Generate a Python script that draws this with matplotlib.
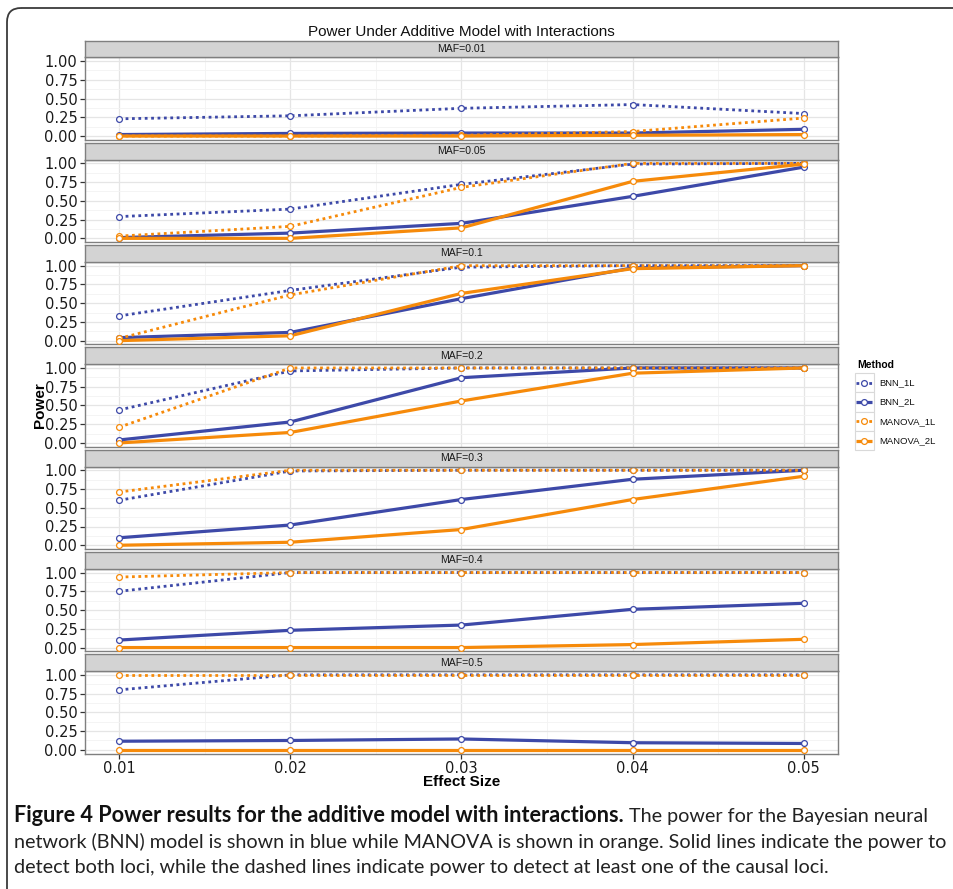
import matplotlib
matplotlib.use("Agg")
import matplotlib.pyplot as plt
from matplotlib.patches import FancyBboxPatch, Rectangle
from matplotlib.lines import Line2D

# ---------------- data ----------------
effect_size = [0.01, 0.02, 0.03, 0.04, 0.05]
maf_levels = ["0.01", "0.05", "0.1", "0.2", "0.3", "0.4", "0.5"]
methods = ["BNN_1L", "BNN_2L", "MANOVA_1L", "MANOVA_2L"]

# power per MAF level (rows) and effect size (columns)
bnn_1l = [
    [0.23, 0.27, 0.37, 0.42, 0.30],
    [0.29, 0.39, 0.72, 0.99, 1.00],
    [0.33, 0.67, 0.98, 1.00, 1.00],
    [0.44, 0.96, 1.00, 1.00, 1.00],
    [0.60, 0.99, 1.00, 1.00, 1.00],
    [0.75, 1.00, 1.00, 1.00, 1.00],
    [0.80, 1.00, 1.00, 1.00, 1.00],
]
bnn_2l = [
    [0.02, 0.035, 0.04, 0.04, 0.09],
    [0.01, 0.07, 0.20, 0.56, 0.95],
    [0.04, 0.11, 0.56, 0.97, 1.00],
    [0.04, 0.28, 0.87, 1.00, 1.00],
    [0.10, 0.27, 0.61, 0.88, 1.00],
    [0.10, 0.23, 0.30, 0.51, 0.59],
    [0.115, 0.125, 0.145, 0.095, 0.085],
]
manova_1l = [
    [0.00, 0.00, 0.01, 0.06, 0.24],
    [0.03, 0.16, 0.68, 1.00, 1.00],
    [0.03, 0.61, 1.00, 1.00, 1.00],
    [0.21, 1.00, 1.00, 1.00, 1.00],
    [0.71, 1.00, 1.00, 1.00, 1.00],
    [0.94, 1.00, 1.00, 1.00, 1.00],
    [1.00, 1.00, 1.00, 1.00, 1.00],
]
manova_2l = [
    [0.00, 0.00, 0.00, 0.01, 0.02],
    [0.00, 0.00, 0.14, 0.76, 0.99],
    [0.00, 0.065, 0.63, 0.96, 1.00],
    [0.00, 0.14, 0.56, 0.93, 1.00],
    [0.00, 0.04, 0.21, 0.61, 0.92],
    [0.00, 0.00, 0.00, 0.04, 0.11],
    [0.00, 0.00, 0.00, 0.00, 0.00],
]

x_ticks = [0.01, 0.02, 0.03, 0.04, 0.05]
x_ticklabels = ["0.01", "0.02", "0.03", "0.04", "0.05"]
y_ticks = [0.0, 0.25, 0.5, 0.75, 1.0]
y_ticklabels = ["0.00", "0.25", "0.50", "0.75", "1.00"]

title = "Power Under Additive Model with Interactions"
caption_bold = "Figure 4 Power results for the additive model with interactions."
caption_lines = [
    " The power for the Bayesian neural",
    "network (BNN) model is shown in blue while MANOVA is shown in orange. Solid lines indicate the power to",
    "detect both loci, while the dashed lines indicate power to detect at least one of the causal loci.",
]

# ---------------- styling ----------------
BLUE = "#3D49A8"
ORANGE = "#F68A0A"
series = [
    (bnn_1l, BLUE, "dotted"),
    (bnn_2l, BLUE, "solid"),
    (manova_1l, ORANGE, "dotted"),
    (manova_2l, ORANGE, "solid"),
]
DOT = (0, (1.0, 1.3))

W, H = 954, 889
fig = plt.figure(figsize=(W / 100, H / 100), dpi=100)
fig.patch.set_facecolor("white")


def rect(l, t, r, b):
    return [l / W, 1 - b / H, (r - l) / W, (b - t) / H]


# outer rounded frame
frame_ax = fig.add_axes([0, 0, 1, 1], zorder=-5)
frame_ax.set_xlim(0, W)
frame_ax.set_ylim(H, 0)
frame_ax.axis("off")
frame_ax.add_patch(FancyBboxPatch((7, 8), W + 40, H + 40,
                                  boxstyle="round,pad=0,rounding_size=14",
                                  fc="none", ec="#3a3a3a", lw=1.3))

P_LEFT, P_RIGHT = 85, 838
P_TOP0 = 57.3
P_H = 82.5
STEP = 102.3
STRIP_H = 16.8
GRID_MAJ = "#E5E5E5"
GRID_MIN = "#F3F3F3"
BORDER = "#7F7F7F"

axes = []
for i, maf in enumerate(maf_levels):
    top = P_TOP0 + i * STEP
    ax = fig.add_axes(rect(P_LEFT, top, P_RIGHT, top + P_H))
    axes.append(ax)
    ax.set_xlim(0.01 - 0.002, 0.05 + 0.002)
    ax.set_ylim(-0.05, 1.05)
    ax.set_xticks(x_ticks)
    ax.set_xticks([0.015, 0.025, 0.035, 0.045], minor=True)
    ax.set_yticks(y_ticks)
    ax.set_yticks([0.125, 0.375, 0.625, 0.875], minor=True)
    ax.set_yticklabels(y_ticklabels)
    ax.grid(which="major", color=GRID_MAJ, lw=0.9)
    ax.grid(which="minor", color=GRID_MIN, lw=0.6)
    ax.set_axisbelow(True)
    for s in ax.spines.values():
        s.set_color(BORDER)
        s.set_linewidth(1.0)
    ax.tick_params(axis="y", which="major", length=3.5, width=0.9, color="#333333",
                   labelsize=10.5, pad=2, labelcolor="#1a1a1a")
    ax.tick_params(which="minor", length=0)
    if i < len(maf_levels) - 1:
        ax.tick_params(axis="x", which="major", length=0, labelbottom=False)
    else:
        ax.set_xticklabels(x_ticklabels)
        ax.tick_params(axis="x", which="major", length=3.5, width=0.9, color="#333333",
                       labelsize=10.5, pad=2, labelcolor="#1a1a1a")

    for data, color, style in series:
        ls = DOT if style == "dotted" else "-"
        lw = 2.0 if style == "dotted" else 2.3
        ax.plot(effect_size, data[i], color=color, ls=ls, lw=lw,
                solid_capstyle="butt", dash_capstyle="butt", zorder=2)
    for data, color, style in series:
        ax.plot(effect_size, data[i], ls="none", marker="o", ms=4.2, mew=0.9,
                mfc="white", mec=color, zorder=3)

    # facet strip
    sax = fig.add_axes(rect(P_LEFT, top - STRIP_H, P_RIGHT, top))
    sax.set_facecolor("#D3D3D3")
    sax.set_xticks([])
    sax.set_yticks([])
    for s in sax.spines.values():
        s.set_color(BORDER)
        s.set_linewidth(1.0)
    sax.text(0.5, 0.5, f"MAF={maf}", ha="center", va="center", fontsize=7.6,
             family="Liberation Sans", color="#1a1a1a", transform=sax.transAxes)

# titles and axis labels
fig.text((P_LEFT + P_RIGHT) / 2 / W, 1 - 32 / H, title, ha="center", va="center",
         fontsize=11, family="Liberation Sans", color="#111111")
fig.text((P_LEFT + P_RIGHT) / 2 / W, 1 - 782 / H, "Effect Size", ha="center", va="center",
         fontsize=11, family="Liberation Sans", weight="bold")
fig.text(40 / W, 1 - 405 / H, "Power", ha="center", va="center", rotation=90,
         fontsize=11, family="Liberation Sans", weight="bold")

# legend
lax = fig.add_axes(rect(850, 350, 952, 455))
lax.set_xlim(850, 952)
lax.set_ylim(455, 350)
lax.axis("off")
lax.text(857, 365, "Method", ha="left", va="center", fontsize=7.5,
         family="Liberation Sans", weight="bold")
for k, (name, (data, color, style)) in enumerate(zip(methods, series)):
    y0 = 373 + k * 19.3
    lax.add_patch(Rectangle((855, y0), 19, 19.3, fc="white", ec="#D9D9D9", lw=0.8))
    ls = DOT if style == "dotted" else "-"
    lw = 2.0 if style == "dotted" else 2.3
    lax.add_line(Line2D([856.5, 872.5], [y0 + 9.6, y0 + 9.6], color=color, ls=ls, lw=lw,
                        solid_capstyle="butt", dash_capstyle="butt"))
    lax.plot([864.5], [y0 + 9.6], ls="none", marker="o", ms=4.2, mew=0.9,
             mfc="white", mec=color)
    lax.text(879, y0 + 9.8, name, ha="left", va="center", fontsize=6.8,
             family="Liberation Sans", color="#111111")

# caption, sized so the long middle line spans the frame width
renderer = fig.canvas.get_renderer()
CAP_FONT = "Lato"
probe = fig.text(0, 0, caption_lines[1], fontsize=12, family=CAP_FONT)
wpx = probe.get_window_extent(renderer).width
probe.remove()
cap_size = 12 * (947 - 14) / wpx

probe = fig.text(0, 0, caption_bold, fontsize=12, family=CAP_FONT, weight="bold")
wb = probe.get_window_extent(renderer).width
probe.remove()
bold_size = 12 * (620 - 14) / wb

x0 = 14 / W
t_bold = fig.text(x0, 1 - 822 / H, caption_bold, fontsize=bold_size, family=CAP_FONT,
                  weight="bold", ha="left", va="baseline", color="#111111")
bb = t_bold.get_window_extent(renderer)
fig.text(bb.x1 / W, 1 - 822 / H, caption_lines[0], fontsize=cap_size, family=CAP_FONT,
         ha="left", va="baseline", color="#222222")
fig.text(x0, 1 - 848 / H, caption_lines[1], fontsize=cap_size, family=CAP_FONT,
         ha="left", va="baseline", color="#222222")
fig.text(x0, 1 - 873.5 / H, caption_lines[2], fontsize=cap_size, family=CAP_FONT,
         ha="left", va="baseline", color="#222222")

fig.savefig("out.png", dpi=100, facecolor="white")
